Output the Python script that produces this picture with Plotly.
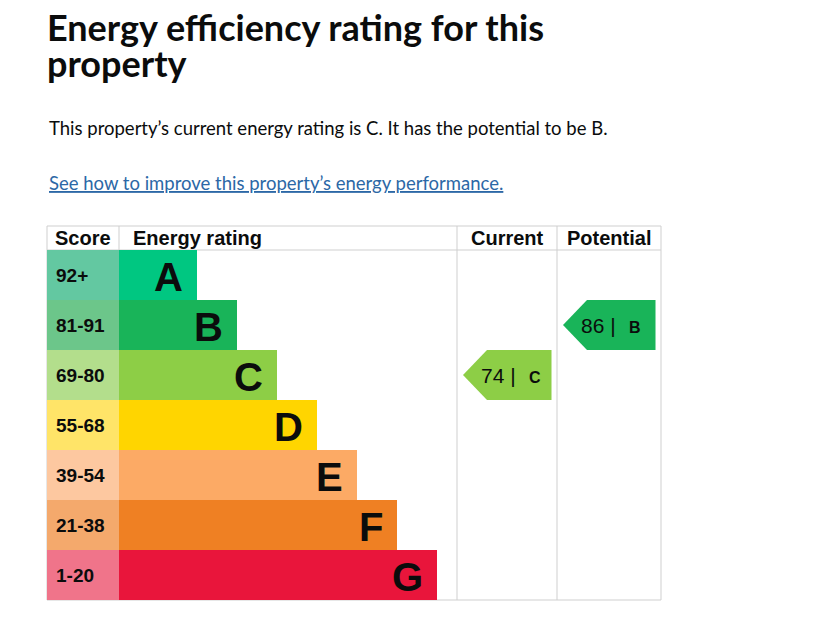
import plotly.graph_objects as go

bands = ["A", "B", "C", "D", "E", "F", "G"]
score_ranges = ["92+", "81-91", "69-80", "55-68", "39-54", "21-38", "1-20"]
band_colours = ["#00c781", "#19b459", "#8dce46", "#ffd500", "#fcaa65", "#ef8023", "#e9153b"]
score_colours = ["#63c8a1", "#6cc68a", "#b3de8c", "#ffe468", "#fdc8a0", "#f4a96c", "#f0748a"]
headers = ["Score", "Energy rating", "Current", "Potential"]

current_score = 74
current_band = "C"
potential_score = 86
potential_band = "B"

title_lines = ["Energy efficiency rating for this", "property"]
summary = "This property\u2019s current energy rating is C. It has the potential to be B."
link_text = "See how to improve this property\u2019s energy performance."

# table geometry (x in page pixels, y in rows)
x_left, x_score, x_rating, x_current, x_right = 47, 119, 457, 557, 661
grid = "#cfcfcf"
arial = "Liberation Sans, Arial"
ink = "#0b0c0c"


def py(p):
    # page pixel -> paper fraction (page has an 8px body margin)
    return 1 - (p - 8) / 624


rows = list(range(len(bands)))
fig = go.Figure()

fig.add_trace(go.Bar(orientation="h", y=rows, x=[x_score - x_left] * len(rows), base=x_left,
                     width=1, marker=dict(color=score_colours, line_width=0),
                     hoverinfo="skip", showlegend=False))
fig.add_trace(go.Bar(orientation="h", y=rows, x=[78 + 40 * i for i in rows], base=x_score,
                     width=1, marker=dict(color=band_colours, line_width=0),
                     hoverinfo="skip", showlegend=False))

anns = []
for i, (b, s) in enumerate(zip(bands, score_ranges)):
    anns.append(dict(x=x_left + 7, y=i, text="<b>%s</b>" % s, showarrow=False, xanchor="left",
                     font=dict(family=arial, size=19, color=ink)))
    anns.append(dict(x=x_score + 78 + 40 * i - 12, y=i, text="<b>%s</b>" % b, showarrow=False,
                     xanchor="right", yshift=-2,
                     font=dict(family=arial, size=40, color=ink)))


def arrow(score, band, col_l, col_r):
    i = bands.index(band)
    tip = col_l + 6
    neck = tip + 24
    right = col_r - 5.5
    fig.add_trace(go.Scatter(x=[tip, neck, right, right, neck, tip], y=[i, i - 0.5, i - 0.5, i + 0.5, i + 0.5, i],
                             fill="toself", fillcolor=band_colours[i], mode="lines", line_width=0,
                             hoverinfo="skip", showlegend=False))
    anns.append(dict(x=tip + 16, y=i, showarrow=False, xanchor="left",
                     text="%d |<span style='font-size:16px'>&nbsp;&nbsp;&nbsp;<b>%s</b></span>" % (score, band),
                     font=dict(family=arial, size=21, color=ink)))


arrow(current_score, current_band, x_rating, x_current)
arrow(potential_score, potential_band, x_current, x_right)

# header
hy = -0.74
hfont = dict(family=arial, size=20, color=ink)
anns.append(dict(x=(x_left + x_score) / 2, y=hy, text="<b>%s</b>" % headers[0], showarrow=False, font=hfont))
anns.append(dict(x=x_score + 12, y=hy, text="<b>%s</b>" % headers[1], showarrow=False, xanchor="left", font=hfont))
anns.append(dict(x=(x_rating + x_current) / 2, y=hy, text="<b>%s</b>" % headers[2], showarrow=False, font=hfont))
anns.append(dict(x=(x_current + x_right) / 2, y=hy, text="<b>%s</b>" % headers[3], showarrow=False, font=hfont))

# page texts - title uses a smaller base size so the two lines sit tight like the page
title = "<br>".join("<span style='font-size:36px'><b>%s</b></span>" % t for t in title_lines)
anns.append(dict(x=46, y=py(45), xref="x", yref="paper", xanchor="left", yanchor="middle", align="left",
                 showarrow=False, text=title, borderpad=0,
                 font=dict(family="Lato", size=27.5, color=ink)))
anns.append(dict(x=47, y=py(128), xref="x", yref="paper", xanchor="left", yanchor="middle",
                 showarrow=False, text=summary, font=dict(family="Lato", size=18.5, color=ink)))
anns.append(dict(x=47, y=py(183), xref="x", yref="paper", xanchor="left", yanchor="middle",
                 showarrow=False, text="<u>%s</u>" % link_text, font=dict(family="Lato", size=18.5, color="#2c68a6")))

shapes = []
line = dict(color=grid, width=1)
top, head, bottom = -0.98, -0.5, 6.5
for xv in [x_left, x_rating, x_current, x_right]:
    shapes.append(dict(type="line", x0=xv, x1=xv, y0=top, y1=bottom, line=line, layer="below"))
shapes.append(dict(type="line", x0=x_score, x1=x_score, y0=top, y1=head, line=line))
for yv in [top, head, bottom]:
    shapes.append(dict(type="line", x0=x_left, x1=x_right, y0=yv, y1=yv, line=line, layer="below"))

fig.update_layout(
    width=828, height=624, margin=dict(l=0, r=0, t=0, b=0),
    paper_bgcolor="white", plot_bgcolor="white", barmode="overlay",
    xaxis=dict(range=[8, 836], visible=False, fixedrange=True),
    yaxis=dict(range=[7.14, -5.34], visible=False, fixedrange=True),
    annotations=anns, shapes=shapes,
)

fig.write_html("out.html")
